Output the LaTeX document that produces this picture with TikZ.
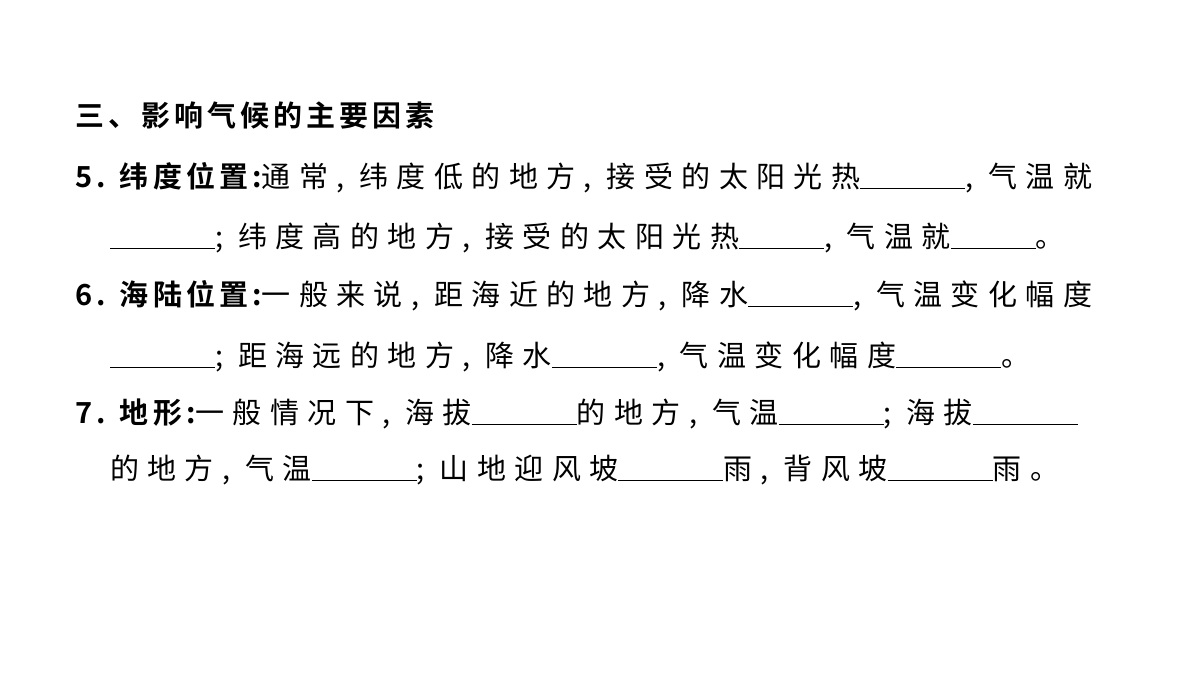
\documentclass[tikz,border=0pt]{standalone}
\usepackage{fontspec}
\newfontfamily\cjk[LetterSpace=29]{Noto Sans CJK SC}
\newfontfamily\cjkb[LetterSpace=14]{Noto Sans CJK SC Bold}
\newcommand{\bl}[1][105]{\underline{\hspace{#1pt}}}
\tikzset{ln/.style={anchor=base west,inner sep=0pt,font=\cjk\fontsize{29}{29}\selectfont}}
\begin{document}
\begin{tikzpicture}[x=1pt,y=-1pt]
\useasboundingbox[fill=white] (0,0) rectangle (1200,675);
\node[ln] (l1) at (75,126) {\cjkb 三、影响气候的主要因素};
\node[ln] (l2) at (75,187) {{\cjkb 5. 纬度位置:}通常, 纬度低的地方, 接受的太阳光热\bl, 气温就};
\node[ln] (l3) at (110,247) {\bl; 纬度高的地方, 接受的太阳光热\bl[85], 气温就\bl[85]。};
\node[ln] (l4) at (75,305) {{\cjkb 6. 海陆位置:}一般来说, 距海近的地方, 降水\bl, 气温变化幅度};
\node[ln] (l5) at (110,366) {\bl; 距海远的地方, 降水\bl, 气温变化幅度\bl。};
\node[ln] (l6) at (75,423) {{\cjkb 7. 地形:}一般情况下, 海拔\bl 的地方, 气温\bl; 海拔\bl};
\node[ln] (l7) at (110,479) {的地方, 气温\bl; 山地迎风坡\bl 雨, 背风坡\bl 雨。};
\end{tikzpicture}
\end{document}
